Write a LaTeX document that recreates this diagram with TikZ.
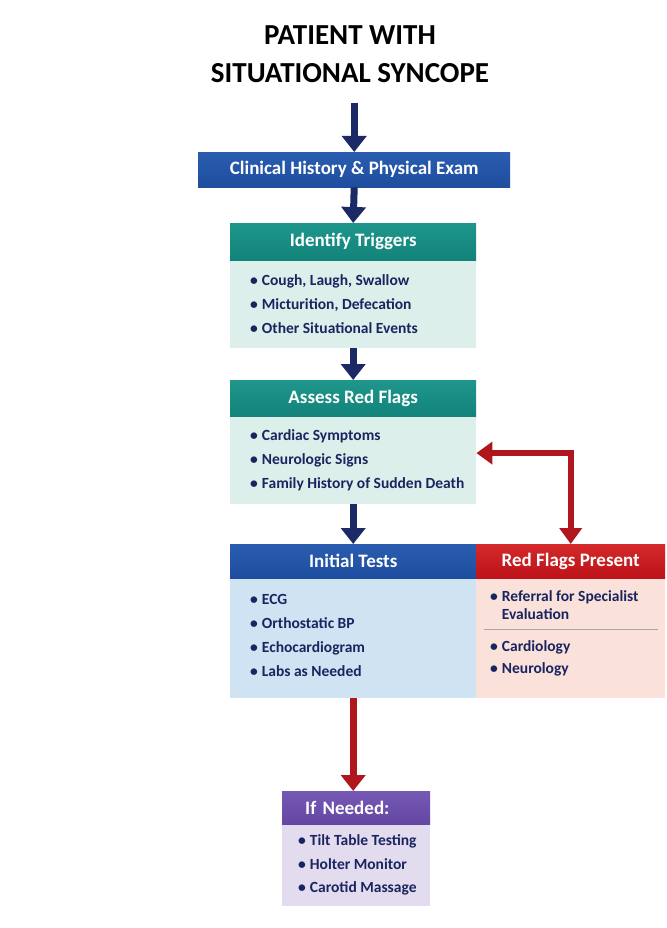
\documentclass[tikz,border=0pt]{standalone}
\usepackage{fontspec}
\setmainfont{Carlito}
\usetikzlibrary{arrows.meta,calc}

\definecolor{navyarrow}{HTML}{1B2A66}
\definecolor{navytext}{HTML}{1A2560}
\definecolor{hdrblue}{HTML}{1E4D9E}
\definecolor{hdrbluetop}{HTML}{2A5DB0}
\definecolor{hdrteal}{HTML}{13837A}
\definecolor{hdrtealtop}{HTML}{1E968B}
\definecolor{hdrred}{HTML}{BC1219}
\definecolor{hdrredtop}{HTML}{D42A2A}
\definecolor{hdrpurple}{HTML}{6447A3}
\definecolor{hdrpurpletop}{HTML}{7559B4}
\definecolor{bodymint}{HTML}{DDEFEB}
\definecolor{bodyblue}{HTML}{CFE3F3}
\definecolor{bodypeach}{HTML}{FAE1D9}
\definecolor{bodylilac}{HTML}{E3DCEF}
\definecolor{arrowred}{HTML}{B0171D}

\newcommand{\itm}{\textbullet\hspace{4pt}}

\tikzset{
  hdr/.style={anchor=north west, inner sep=0pt, text=white,
    font=\bfseries\fontsize{19}{22}\selectfont, minimum height=36pt},
  bodybox/.style={anchor=north west, inner sep=0pt},
  itemlist/.style={inner sep=0pt, align=left, text=navytext,
    font=\bfseries\fontsize{15.5}{24}\selectfont},
  flowarrow/.style={line width=7pt, -{Triangle[width=24pt,length=16pt]}},
  elbowarrow/.style={line width=6pt, arrowred,
    {Triangle[width=22pt,length=16pt]}-{Triangle[width=22pt,length=16pt]}},
}

\begin{document}
\begin{tikzpicture}
      [x=1pt, y=-1pt]
      \useasboundingbox[fill=white] (0,0) rectangle (666,928);

      \node[align=center, inner sep=0pt, font=\bfseries\fontsize{29}{38}\selectfont] (title)
        at (350,54) {PATIENT WITH\\SITUATIONAL SYNCOPE};

      \node[hdr, top color=hdrbluetop, bottom color=hdrblue, minimum width=312pt, minimum height=35pt] (clin)
        at (198,152) {Clinical History \& Physical Exam};

      % identify triggers
      \node[hdr, top color=hdrtealtop, bottom color=hdrteal, minimum width=246pt, minimum height=37pt] (trig)
        at (230,223) {Identify Triggers};
      \node[bodybox, fill=bodymint, minimum width=246pt, minimum height=87pt] (trigbody) at (trig.south west) {};
      \node[itemlist, anchor=west] (triglist) at ([xshift=20pt]trigbody.west)
        {\itm Cough, Laugh, Swallow\\ \itm Micturition, Defecation\\ \itm Other Situational Events};

      % assess red flags
      \node[hdr, top color=hdrtealtop, bottom color=hdrteal, minimum width=246pt] (assess)
        at (230,380) {Assess Red Flags};
      \node[bodybox, fill=bodymint, minimum width=246pt, minimum height=87pt] (assessbody) at (assess.south west) {};
      \node[itemlist, anchor=west] (assesslist) at ([xshift=20pt]assessbody.west)
        {\itm Cardiac Symptoms\\ \itm Neurologic Signs\\ \itm Family History of Sudden Death};

      % initial tests
      \node[hdr, top color=hdrbluetop, bottom color=hdrblue, minimum width=246pt, minimum height=34pt] (init)
        at (230,544) {Initial Tests};
      \node[bodybox, fill=bodyblue, minimum width=246pt, minimum height=119pt] (initbody) at (init.south west) {};
      \node[itemlist, anchor=west] (initlist) at ([xshift=20pt, yshift=3pt]initbody.west)
        {\itm ECG\\ \itm Orthostatic BP\\ \itm Echocardiogram\\ \itm Labs as Needed};

      % red flags present
      \node[hdr, top color=hdrredtop, bottom color=hdrred, minimum width=189pt, minimum height=34pt] (rf)
        at (476,544) {Red Flags Present};
      \node[bodybox, fill=bodypeach, minimum width=189pt, minimum height=119pt] (rfbody) at (rf.south west) {};
      \node[itemlist, anchor=north west, font=\bfseries\fontsize{15.5}{18}\selectfont] (rflist)
        at ([xshift=14pt, yshift=-12pt]rfbody.north west)
        {\itm Referral for Specialist\\ \phantom{\itm}Evaluation\\[14pt]
         \itm Cardiology\\[4pt] \itm Neurology};
      \draw[gray!70, line width=0.8pt] ($(rfbody.north west)+(8,51)$) -- ($(rfbody.north east)+(-7,51)$);

      % if needed
      \node[hdr, top color=hdrpurpletop, bottom color=hdrpurple, minimum width=148pt, minimum height=33pt,
        inner xsep=23pt, text width=102pt, align=left] (needed) at (282,791) {If Needed:};
      \node[bodybox, fill=bodylilac, minimum width=148pt, minimum height=81pt] (neededbody) at (needed.south west) {};
      \node[itemlist, anchor=west, font=\bfseries\fontsize{15.5}{23.5}\selectfont] (neededlist)
        at ([xshift=16pt]neededbody.west)
        {\itm Tilt Table Testing\\ \itm Holter Monitor\\ \itm Carotid Massage};

      % connectors
      \draw[flowarrow, navyarrow, shorten <=20pt] (title.south -| clin.north) -- (clin.north);
      \draw[flowarrow, navyarrow] (clin.south) -- (trig.north);
      \draw[flowarrow, navyarrow] (trigbody.south) -- (assess.north);
      \draw[flowarrow, navyarrow] (assessbody.south) -- (init.north);
      \draw[elbowarrow] ([yshift=7pt]assessbody.east) -| (rf.north);
      \draw[flowarrow, arrowred] (initbody.south) -- (initbody.south |- needed.north);
    \end{tikzpicture}
\end{document}
